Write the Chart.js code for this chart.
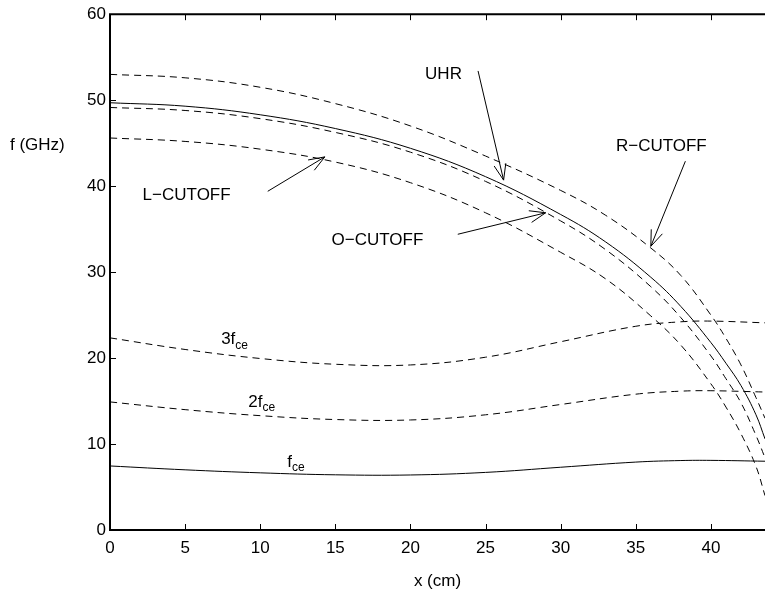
<!DOCTYPE html>
<html>
<head>
<meta charset="utf-8">
<script src="https://cdn.jsdelivr.net/npm/chart.js@4"></script>
<style>
  html, body { margin: 0; padding: 0; background: #fff; }
  canvas { display: block; }
</style>
</head>
<body>
<canvas id="freqChart" width="765" height="595"></canvas>
<script>
// cutoff / resonance curves (x in cm, f in GHz)
const cutX   = [0, 5, 10, 15, 20, 25, 30, 33, 36, 38, 40, 41, 42, 43, 43.6];
const rCut   = [53.0, 52.6, 51.5, 49.6, 47.0, 43.5, 39.5, 36.6, 32.8, 29.6, 25.0, 22.3, 19.2, 15.4, 13.0];
const uhr    = [49.7, 49.3, 48.3, 46.7, 44.4, 41.1, 36.7, 33.5, 29.4, 26.0, 21.8, 19.4, 16.8, 13.4, 10.6];
const oCut   = [49.15, 48.8, 47.85, 46.25, 43.95, 40.55, 35.95, 32.6, 28.3, 24.7, 20.25, 17.6, 14.8, 11.0, 8.4];
const lCut   = [45.6, 45.2, 44.3, 42.8, 40.4, 36.9, 32.3, 29.2, 24.9, 21.5, 17.0, 14.3, 11.2, 7.4, 4.0];

// cyclotron harmonics
const cycX   = [0, 5, 10, 15, 20, 25, 30, 35, 38, 40, 43.6];
const fce    = [7.45, 7.0, 6.65, 6.42, 6.4, 6.7, 7.3, 7.9, 8.08, 8.1, 8.0];
const fce2   = [14.9, 14.0, 13.3, 12.85, 12.8, 13.4, 14.6, 15.8, 16.15, 16.2, 16.05];
const fce3   = [22.35, 21.0, 19.95, 19.28, 19.2, 20.1, 21.9, 23.7, 24.22, 24.3, 24.1];

const xTicks = [0, 5, 10, 15, 20, 25, 30, 35, 40];
const yTicks = [0, 10, 20, 30, 40, 50, 60];

// labels with arrows (data coords): text centre, arrow tail, arrow tip
const arrowNotes = [
  { text: 'UHR',           tx: 22.2, ty: 53.0, from: [24.5, 53.4],  to: [26.2, 40.7] },
  { text: 'R\u2212CUTOFF', tx: 36.7, ty: 44.6, from: [38.3, 42.9],  to: [36.0, 33.0] },
  { text: 'L\u2212CUTOFF', tx: 5.1,  ty: 38.9, from: [10.5, 39.4],  to: [14.3, 43.4] },
  { text: 'O\u2212CUTOFF', tx: 17.8, ty: 33.7, from: [23.15, 34.4], to: [29.0, 36.9] }
];
// harmonic labels: prefix, left x, centre y
const harmNotes = [
  { pre: '3f', x: 7.4,  y: 22.15 },
  { pre: '2f', x: 9.2,  y: 14.9 },
  { pre: 'f',  x: 11.8, y: 7.9 }
];

const FONT = '"Liberation Sans", Arial, Helvetica, sans-serif';

function pts(xs, ys) { return xs.map((v, i) => ({ x: v, y: ys[i] })); }

function curve(xs, ys, dashed) {
    return {
        data: pts(xs, ys),
        showLine: true,
        borderColor: '#000',
        borderWidth: 1,
        borderDash: dashed ? [7, 5] : [],
        pointRadius: 0,
        tension: 0.4,
        fill: false
    };
}

const decorations = {
    id: 'decorations',
    afterDraw(chart) {
        const ctx = chart.ctx, a = chart.chartArea;
        const sx = chart.scales.x, sy = chart.scales.y;
        ctx.save();

        // axes box (left, top, bottom)
        ctx.strokeStyle = '#000';
        ctx.lineWidth = 2;
        ctx.beginPath();
        ctx.moveTo(a.right, a.top); ctx.lineTo(a.left, a.top);
        ctx.lineTo(a.left, a.bottom); ctx.lineTo(a.right, a.bottom);
        ctx.stroke();

        // inward ticks
        ctx.lineWidth = 1;
        ctx.beginPath();
        xTicks.forEach(v => {
            const px = Math.round(sx.getPixelForValue(v)) + 0.5;
            ctx.moveTo(px, a.bottom); ctx.lineTo(px, a.bottom - 6);
            ctx.moveTo(px, a.top); ctx.lineTo(px, a.top + 6);
        });
        yTicks.forEach(v => {
            const py = Math.round(sy.getPixelForValue(v)) + 0.5;
            ctx.moveTo(a.left, py); ctx.lineTo(a.left + 6, py);
        });
        ctx.stroke();

        // axis titles
        ctx.fillStyle = '#000';
        ctx.font = '17px ' + FONT;
        ctx.textBaseline = 'middle';
        ctx.textAlign = 'left';
        ctx.fillText('f (GHz)', 10, sy.getPixelForValue(44.7));
        ctx.textAlign = 'center';
        ctx.fillText('x (cm)', (a.left + a.right) / 2, 581);

        // arrow annotations
        arrowNotes.forEach(n => {
            ctx.font = '17px ' + FONT;
            ctx.textAlign = 'center';
            ctx.fillText(n.text, sx.getPixelForValue(n.tx), sy.getPixelForValue(n.ty));
            const x0 = sx.getPixelForValue(n.from[0]), y0 = sy.getPixelForValue(n.from[1]);
            const x1 = sx.getPixelForValue(n.to[0]),   y1 = sy.getPixelForValue(n.to[1]);
            const ang = Math.atan2(y1 - y0, x1 - x0);
            const len = 17, spread = 0.36;
            ctx.beginPath();
            ctx.moveTo(x0, y0); ctx.lineTo(x1, y1);
            ctx.moveTo(x1 - len * Math.cos(ang - spread), y1 - len * Math.sin(ang - spread));
            ctx.lineTo(x1, y1);
            ctx.lineTo(x1 - len * Math.cos(ang + spread), y1 - len * Math.sin(ang + spread));
            ctx.stroke();
        });

        // harmonic labels with subscript
        harmNotes.forEach(n => {
            const px = sx.getPixelForValue(n.x), py = sy.getPixelForValue(n.y);
            ctx.textAlign = 'left';
            ctx.font = '17px ' + FONT;
            ctx.fillText(n.pre, px, py);
            const w = ctx.measureText(n.pre).width;
            ctx.font = '12px ' + FONT;
            ctx.fillText('ce', px + w, py + 6);
        });

        ctx.restore();
    }
};

new Chart(document.getElementById('freqChart').getContext('2d'), {
    type: 'scatter',
    data: {
        datasets: [
            curve(cutX, rCut, true),
            curve(cutX, uhr, false),
            curve(cutX, oCut, true),
            curve(cutX, lCut, true),
            curve(cycX, fce3, true),
            curve(cycX, fce2, true),
            curve(cycX, fce, false)
        ]
    },
    options: {
        responsive: false,
        animation: false,
        layout: { padding: { top: 10, right: 0, left: 0, bottom: 0 } },
        plugins: { legend: { display: false }, tooltip: { enabled: false } },
        scales: {
            x: {
                type: 'linear', min: 0, max: 43.6,
                grid: { display: false, drawTicks: false },
                border: { display: false },
                ticks: {
                    stepSize: 5, includeBounds: false, padding: 8,
                    color: '#000', font: { family: FONT, size: 17 },
                    maxRotation: 0, autoSkip: false
                },
                afterFit(s) { s.height = 65; }
            },
            y: {
                type: 'linear', min: 0, max: 60,
                grid: { display: false, drawTicks: false },
                border: { display: false },
                ticks: {
                    stepSize: 10, padding: 4,
                    color: '#000', font: { family: FONT, size: 17 }
                },
                afterFit(s) { s.width = 110; }
            }
        }
    },
    plugins: [decorations]
});
</script>
</body>
</html>
